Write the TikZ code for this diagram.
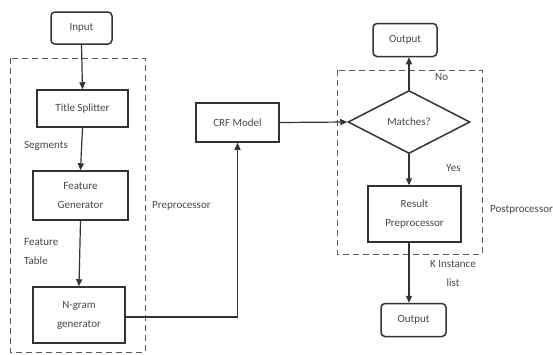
\documentclass[tikz,border=0pt]{standalone}
\usepackage{fontspec}
\setmainfont{Carlito}
\usetikzlibrary{shapes.geometric,arrows.meta}
\begin{document}
\begin{tikzpicture}[x=1pt,y=-1pt,
  every node/.style={font=\fontsize{11}{19}\selectfont, text=black!72},
  box/.style={draw=black!80, line width=1.5pt, rectangle, inner sep=0pt, align=center},
  rbox/.style={box, rounded corners=4pt},
  lbl/.style={inner sep=0pt, anchor=west, align=left},
  conn/.style={draw=black!80, line width=1.2pt, -{Triangle[length=7pt,width=6pt]}},
  group/.style={draw=black!65, line width=1pt, dash pattern=on 6pt off 4pt}]
\useasboundingbox (0,0) rectangle (553,354);
% groups
\draw[group] (10,58) rectangle (145,352);
\draw[group] (337,70) rectangle (482,254);
% nodes
\node[rbox, minimum width=61pt, minimum height=32pt] (in) at (81.5,28) {Input};
\node[box, minimum width=91pt, minimum height=37pt] (ts) at (82.5,108.5) {Title Splitter};
\node[box, minimum width=95pt, minimum height=49pt] (fg) at (80.5,195.5) {Feature\\Generator};
\node[box, minimum width=92pt, minimum height=56pt] (ng) at (79,315) {N-gram\\generator};
\node[box, minimum width=83pt, minimum height=39pt] (crf) at (237.5,122.5) {CRF Model};
\node[draw=black!80, line width=1.5pt, diamond, inner sep=0pt, minimum width=122pt, minimum height=63pt] (dia) at (409,122) {Matches?};
\node[rbox, minimum width=64pt, minimum height=33pt] (out1) at (405,40) {Output};
\node[box, minimum width=93pt, minimum height=56pt] (res) at (414.5,214) {Result\\Preprocessor};
\node[rbox, minimum width=65pt, minimum height=33pt] (out2) at (413.5,320) {Output};
% labels
\node[lbl] (lseg) at (24,146) {Segments};
\node[lbl] (lft) at (24,251.5) {Feature\\Table};
\node[lbl] (lpre) at (152,206) {Preprocessor};
\node[lbl] (lno) at (435,77) {No};
\node[lbl] (lyes) at (446,168) {Yes};
\node[lbl] (lpost) at (490,210) {Postprocessor};
\node[inner sep=0pt, align=center] (lk) at (453,273.5) {K Instance\\list};
% connectors
\draw[conn] (in.south) -- (ts.north);
\draw[conn] (ts.south) -- (fg.north);
\draw[conn] (fg.south) -- (ng.north);
\draw[conn] ([yshift=-2pt]ng.east) -| (crf.south);
\draw[conn] (crf.east) -- (dia.west);
\draw[conn] (dia.north) -- (dia.north |- out1.south);
\draw[conn] (dia.south) -- (dia.south |- res.north);
\draw[conn] (dia.south |- res.south) -- (dia.south |- out2.north);
\end{tikzpicture}
\end{document}
